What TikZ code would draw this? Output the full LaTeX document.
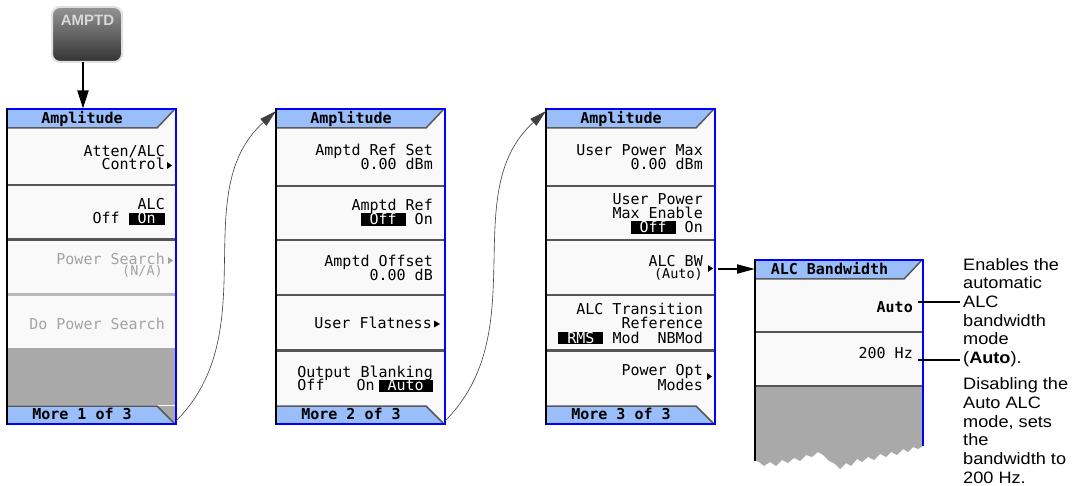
\documentclass[tikz,border=0pt]{standalone}
\usepackage{fontspec}
\usetikzlibrary{arrows.meta}
\newfontfamily\scrfont{DejaVu Sans Mono}
\newfontfamily\annfont{Liberation Sans}[FakeStretch=1.1]
\newfontfamily\btnfont{Liberation Sans}
\definecolor{keywhite}{HTML}{F9F9F9}
\definecolor{areagray}{HTML}{A9A9A9}
\definecolor{barblue}{RGB}{153,190,250}
\definecolor{bordblue}{RGB}{0,0,255}
\definecolor{sepdark}{HTML}{555555}
\definecolor{distext}{HTML}{A3A3A3}
\newcommand\hl[1]{{\setlength{\fboxsep}{0pt}\colorbox{black}{\textcolor{white}{\rule[-1.2pt]{0pt}{11.8pt}#1}}}}
\tikzset{
  lbl/.style={inner sep=0pt, anchor=base east, font=\scrfont\fontsize{15}{15}\selectfont},
  slbl/.style={inner sep=0pt, anchor=base east, font=\scrfont\fontsize{13.5}{13.5}\selectfont},
  dis/.style={text=distext},
  ttl/.style={inner sep=0pt, anchor=base, font=\scrfont\bfseries\fontsize{15}{15}\selectfont},
  blbl/.style={inner sep=0pt, anchor=base east, font=\scrfont\bfseries\fontsize{15}{15}\selectfont},
  tabedge/.style={draw=black!65, line width=1.5pt},
  sepline/.style={draw=sepdark, line width=2.5pt},
  seplight/.style={draw=black!28, line width=2.5pt},
  ann/.style={inner sep=0pt, anchor=base west, font=\annfont\fontsize{16.5}{19}\selectfont},
  bigarrow/.style={-{Triangle[length=18pt,width=11pt]}, line width=2pt},
  hzarrow/.style={-{Triangle[length=18pt,width=9pt]}, line width=2pt},
  curvearrow/.style={-{Triangle[length=17pt,width=9pt]}, line width=0.6pt, draw=black!75},
  annline/.style={line width=2pt},
  panelnode/.style={inner sep=0pt, outer sep=0pt, anchor=north west},
}
% #1 L, #2 R, #3 T, #4 B, #5 title, #6 bottom label, #7 corner fill, #8 name
\newcommand\smpanel[8]{%
  \fill[keywhite] (#1,#3) rectangle (#2,#4);
  \node[panelnode, minimum width={#2-#1}, minimum height={#4-#3}] (#8) at (#1,#3) {};
  \fill[barblue] (#1,#3) -- ({#2-2},#3) -- ({#2-19},{#3+19}) -- (#1,{#3+19}) -- cycle;
  \draw[tabedge] (#1,{#3+19}) -- ({#2-19},{#3+19}) -- ({#2-2},{#3+1});
  \node[ttl] (#8-title) at ({(#1+#2-19)/2},{#3+15}) {#5};
  \fill[#7] ({#2-19},{#4-18}) -- (#2,{#4-18}) -- (#2,#4) -- cycle;
  \fill[barblue] (#1,{#4-18}) -- ({#2-19},{#4-18}) -- ({#2-2},#4) -- (#1,#4) -- cycle;
  \draw[tabedge] (#1,{#4-18}) -- ({#2-19},{#4-18}) -- ({#2-2},{#4-1});
  \node[ttl] (#8-more) at ({(#1+#2-19)/2},{#4-5}) {#6};
}
\newcommand\pborder[4]{%
  \draw[bordblue, line width=2.5pt] (#1,#3) -- (#2,#3) -- (#2,#4) -- (#1,#4);
  \draw[black, line width=2pt] (#1,{#3-1}) -- (#1,{#4+1});
}
\begin{document}
\begin{tikzpicture}[x=1pt,y=-1pt]
\path[use as bounding box] (0,0) rectangle (1081,486);
\fill[white] (0,0) rectangle (1081,486);

% AMPTD hardkey
\node[rounded corners=8pt, top color=black!42, bottom color=black!80, draw=black!12,
      line width=2pt, minimum width=70pt, minimum height=55pt, inner sep=0pt] (amptd) at (87,34.5) {};
\node[font=\btnfont\bfseries\fontsize{15}{15}\selectfont, text=white!85!black, anchor=base, inner sep=0pt]
      (amptdlbl) at (87.5,25.5) {AMPTD};

% ---------- Panel 1 ----------
\smpanel{7}{176}{109}{424}{Amplitude}{More 1 of 3}{areagray}{p1}
\fill[areagray] (8,348) rectangle (174.7,405.3);
\draw[sepline] (8,185) -- (174.7,185);
\draw[sepline] (8,239.5) -- (174.7,239.5);
\draw[seplight] (8,294.5) -- (174.7,294.5);
\pborder{7}{176}{109}{424}
\node[lbl] (p1k1a) at (165,157) {Atten/ALC};
\node[lbl] (p1k1b) at (165,169.5) {Control};
\fill (167,162) -- (167,169) -- (172,165.5) -- cycle;
\node[lbl] (p1k2a) at (165,210) {ALC};
\node[lbl] (p1k2b) at (165,224) {Off~\hl{~On~}};
\node[lbl,dis] (p1k3a) at (165,264.5) {Power Search};
\node[slbl,dis] (p1k3b) at (163,276) {(N/A)};
\fill[distext] (168,257) -- (168,264) -- (173,260.5) -- cycle;
\node[lbl,dis] (p1k4) at (165,329) {Do Power Search};

% ---------- Panel 2 ----------
\smpanel{276}{445}{109}{424}{Amplitude}{More 2 of 3}{keywhite}{p2}
\foreach \y in {186,240,295,350.5} \draw[sepline] (277,\y) -- (443.7,\y);
\pborder{276}{445}{109}{424}
\node[lbl] (p2k1a) at (433,156) {Amptd Ref Set};
\node[lbl] (p2k1b) at (433,169.5) {0.00 dBm};
\node[lbl] (p2k2a) at (433,211) {Amptd Ref};
\node[lbl] (p2k2b) at (433,224.5) {\hl{~Off~}~On~};
\node[lbl] (p2k3a) at (433,267) {Amptd Offset};
\node[lbl] (p2k3b) at (433,280) {0.00 dB};
\node[lbl] (p2k4) at (432,328) {User Flatness};
\fill (434,320.5) -- (434,327.5) -- (440,324) -- cycle;
\node[lbl] (p2k5a) at (433,377) {Output Blanking};
\node[lbl] (p2k5b) at (433,390.5) {Off\hspace{32pt}On\hspace{4pt}\hl{~Auto~}};

% ---------- Panel 3 ----------
\smpanel{546}{715}{109}{424}{Amplitude}{More 3 of 3}{keywhite}{p3}
\foreach \y in {186,240,295,350.5} \draw[sepline] (547,\y) -- (713.7,\y);
\pborder{546}{715}{109}{424}
\node[lbl] (p3k1a) at (703,156) {User Power Max};
\node[lbl] (p3k1b) at (703,170) {0.00 dBm};
\node[lbl] (p3k2a) at (703,205) {User Power};
\node[lbl] (p3k2b) at (703,218.5) {Max Enable};
\node[lbl] (p3k2c) at (703,232.5) {\hl{~Off~}~On~};
\node[lbl] (p3k3a) at (703,266.5) {ALC BW};
\node[slbl] (p3k3b) at (703,278.5) {(Auto)};
\fill (708,265) -- (708,272) -- (713,268.5) -- cycle;
\node[lbl] (p3k4a) at (703,314) {ALC Transition};
\node[lbl] (p3k4b) at (703,328.5) {Reference};
\node[lbl] (p3k4c) at (703,343) {\hl{~RMS~}~Mod~~NBMod~};
\node[lbl] (p3k5a) at (703,375) {Power Opt};
\node[lbl] (p3k5b) at (703,390) {Modes};
\fill (707,373) -- (707,380) -- (712,376.5) -- cycle;

% ---------- Panel 4 ----------
\fill[keywhite] (755,260) rectangle (923,387);
\node[panelnode, minimum width=168pt, minimum height=200pt] (p4) at (755,260) {};
\fill[areagray] (756,386) -- (923,386) -- (923,446) -- (918,449) -- (913,447) -- (908,452)
  -- (903,449) -- (897,455) -- (891,452) -- (886,457) -- (880,454) -- (874,460) -- (868,457)
  -- (862,462) -- (857,459) -- (851,466) -- (846,463) -- (840,469) -- (835,464) -- (829,461)
  -- (823,455) -- (818,452) -- (812,457) -- (806,455) -- (800,461) -- (794,458) -- (788,463)
  -- (782,460) -- (776,466) -- (770,462) -- (764,466) -- (759,462) -- (756,461) -- cycle;
\fill[barblue] (755,260) -- (921,260) -- (904,279) -- (755,279) -- cycle;
\draw[tabedge] (755,279) -- (904,279) -- (921,261);
\node[ttl] (p4-title) at (829.5,274.5) {ALC Bandwidth};
\draw[sepline] (756,332) -- (921.7,332);
\draw[sepline] (756,386) -- (921.7,386);
\draw[bordblue, line width=2.5pt] (755,260) -- (923,260) -- (923,446);
\draw[black, line width=2pt] (755,259) -- (755,461);
\node[blbl] (p4k1) at (913,312) {Auto};
\node[lbl] (p4k2) at (913,358) {200 Hz};

% ---------- connectors ----------
\coordinate (amptdout) at (83,62);
\coordinate (p1in) at (83,108.5);
\draw[bigarrow] (amptdout) -- (p1in);
\draw[curvearrow] ([yshift=3pt]p1.south east) .. controls +(90,-90) and +(-90,81) .. ([yshift=-2pt]p2.north west);
\draw[curvearrow] ([yshift=3pt]p2.south east) .. controls +(90,-90) and +(-90,81) .. ([yshift=-2pt]p3.north west);
\coordinate (albw) at (718,269);
\draw[hzarrow] (albw) -- (p4.north west |- albw);
\coordinate (autoend) at (918,302);
\coordinate (annalc) at (960,302);
\draw[annline] (autoend) -- (annalc);
\coordinate (hzend) at (918,360);
\coordinate (annauto) at (960,360);
\draw[annline] (hzend) -- (annauto);

% ---------- annotations ----------
\foreach \t/\y [count=\i] in {Enables the/270, automatic/288.7, ALC/307.3, bandwidth/326, mode/344.7, {(\textbf{Auto}).}/363.3}
  \node[ann] (anna-\i) at (963,\y) {\t};
\foreach \t/\y [count=\i] in {Disabling the/389.5, Auto ALC/408.3, {mode, sets}/427, the/445.7, bandwidth to/464.5, 200 Hz./483.2}
  \node[ann] (annb-\i) at (963,\y) {\t};
\end{tikzpicture}
\end{document}
